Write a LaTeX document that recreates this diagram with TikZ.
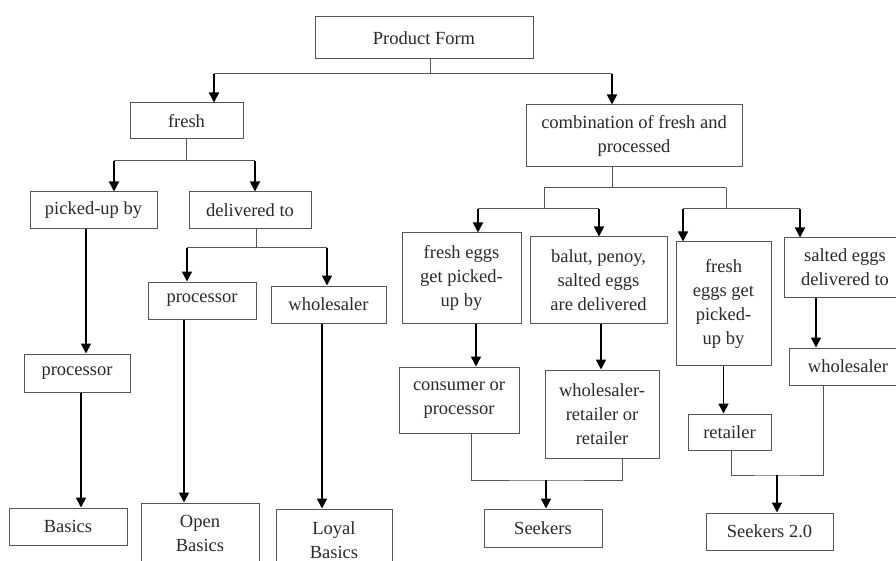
\documentclass[tikz,border=0pt]{standalone}
\usepackage{fontspec}
\setmainfont{Liberation Serif}
\usetikzlibrary{arrows.meta}
\definecolor{linec}{HTML}{555555}
\definecolor{textc}{HTML}{2A2A2A}

\begin{document}
\begin{tikzpicture}[x=1pt, y=-1pt,
  box/.style={draw=linec, line width=1pt, align=center, inner sep=0pt, text=textc,
    font=\fontsize{18.5}{24}\selectfont},
  tree/.style={draw=linec, line width=1pt},
  arr/.style={black, line width=1.6pt, -{Triangle[width=10pt,length=10pt]}}]
  \useasboundingbox (0,0) rectangle (896,561);
  \clip (0,0) rectangle (896,561);
  \fill[white] (0,0) rectangle (896,561);

  \node[box, minimum width=218, minimum height=42] (pf) at (424,38) {Product Form};
  \node[box, minimum width=113, minimum height=36] (fresh) at (186.5,121) {fresh};
  \node[box, minimum width=216, minimum height=62] (comb) at (634,136) {combination of fresh and\\processed};
  \node[box, minimum width=127, minimum height=37] (pick) at (93.5,210.5) {picked-up by};
  \node[box, minimum width=122, minimum height=37] (deliv) at (250,210.5) {delivered to};
  \node[box, minimum width=106, minimum height=38] (procA) at (77,373) {processor};
  \node[box, minimum width=108, minimum height=37] (procB) at (202,300.5) {processor};
  \node[box, minimum width=115, minimum height=37] (whol) at (328.5,304.5) {wholesaler};
  \node[box, minimum width=118, minimum height=37] (basics) at (68,526.5) {Basics};
  \node[box, minimum width=118, minimum height=60] (open) at (200,533) {Open\\Basics};
  \node[box, minimum width=116, minimum height=62] (loyal) at (334,540) {Loyal\\Basics};
  \node[box, minimum width=119, minimum height=90] (fe1) at (461.5,278) {fresh eggs\\get picked-\\up by};
  \node[box, minimum width=137, minimum height=86] (balut) at (598.5,280) {balut, penoy,\\salted eggs\\are delivered};
  \node[box, minimum width=95, minimum height=123] (fe2) at (723.5,303.5) {fresh\\eggs get\\picked-\\up by};
  \node[box, minimum width=122, minimum height=59] (salted) at (845,267.5) {salted eggs\\delivered to};
  \node[box, minimum width=120, minimum height=66] (cons) at (459,400) {consumer or\\processor};
  \node[box, minimum width=114, minimum height=88] (wr) at (602,414) {wholesaler-\\retailer or\\retailer};
  \node[box, minimum width=83, minimum height=36] (ret) at (729.5,432) {retailer};
  \node[box, minimum width=118, minimum height=37] (wholR) at (848,366.5) {wholesaler};
  \node[box, minimum width=118, minimum height=38] (seek) at (543,528) {Seekers};
  \node[box, minimum width=127, minimum height=37] (seek2) at (769.5,531.5) {Seekers 2.0};

  \coordinate (t0) at (430,74);
  \coordinate (tL) at (214,74);
  \coordinate (tR) at (612,74);
  \draw[tree] (t0 |- pf.south) -- (t0);
  \draw[tree] (tL) -- (tR);
  \draw[arr] (tL) -- (tL |- fresh.north);
  \draw[arr] (tR) -- (tR |- comb.north);

  \coordinate (f0) at (186,161);
  \coordinate (fL) at (114,161);
  \coordinate (fR) at (255,161);
  \draw[tree] (f0 |- fresh.south) -- (f0);
  \draw[tree] (fL) -- (fR);
  \draw[arr] (fL) -- (fL |- pick.north);
  \draw[arr] (fR) -- (fR |- deliv.north);

  \coordinate (d0) at (256,248);
  \coordinate (dL) at (187,248);
  \coordinate (dR) at (327,248);
  \draw[tree] (d0 |- deliv.south) -- (d0);
  \draw[tree] (dL) -- (dR);
  \draw[arr] (dL) -- (dL |- procB.north);
  \draw[arr] (dR) -- (dR |- whol.north);

  \draw[arr] ([xshift=-7.5]pick.south) -- ([xshift=-7.5]pick.south |- procA.north);
  \draw[arr] ([xshift=4]procA.south) -- ([xshift=4]procA.south |- basics.north);
  \draw[arr] ([xshift=-18]procB.south) -- ([xshift=-18]procB.south |- open.north);
  \draw[arr] ([xshift=-6.5]whol.south) -- ([xshift=-6.5]whol.south |- loyal.north);

  \coordinate (c0) at (612,188);
  \coordinate (cL) at (544,188);
  \coordinate (cR) at (726,188);
  \coordinate (cLL) at (478,209);
  \coordinate (cLR) at (599,209);
  \coordinate (cRL) at (683,209);
  \coordinate (cRR) at (800,209);
  \draw[tree] (c0 |- comb.south) -- (c0);
  \draw[tree] (cL) -- (cR);
  \draw[tree] (cL) -- (cL |- cLL);
  \draw[tree] (cR) -- (cR |- cRL);
  \draw[tree] (cLL) -- (cLR);
  \draw[tree] (cRL) -- (cRR);
  \draw[arr] (cLL) -- (cLL |- fe1.north);
  \draw[arr] (cLR) -- (cLR |- balut.north);
  \draw[arr] (cRL) -- (cRL |- fe2.north);
  \draw[arr] (cRR) -- (cRR |- salted.north);

  \draw[arr] ([xshift=14.5]fe1.south) -- ([xshift=14.5]fe1.south |- cons.north);
  \draw[arr] ([xshift=2.5]balut.south) -- ([xshift=2.5]balut.south |- wr.north);
  \draw[arr] (fe2.south) -- (ret.north -| fe2.south);
  \draw[arr] ([xshift=-29]salted.south) -- ([xshift=-29]salted.south |- wholR.north);

  \coordinate (m1) at (546,480);
  \coordinate (m2) at (777,475);
  \draw[tree] ([xshift=12]cons.south) |- (m1) -| ([xshift=20]wr.south);
  \draw[arr] (m1) -- (m1 |- seek.north);
  \draw[tree] ([xshift=1.5]ret.south) |- (m2) -| ([xshift=-25]wholR.south);
  \draw[arr] (m2) -- (m2 |- seek2.north);
\end{tikzpicture}
\end{document}
